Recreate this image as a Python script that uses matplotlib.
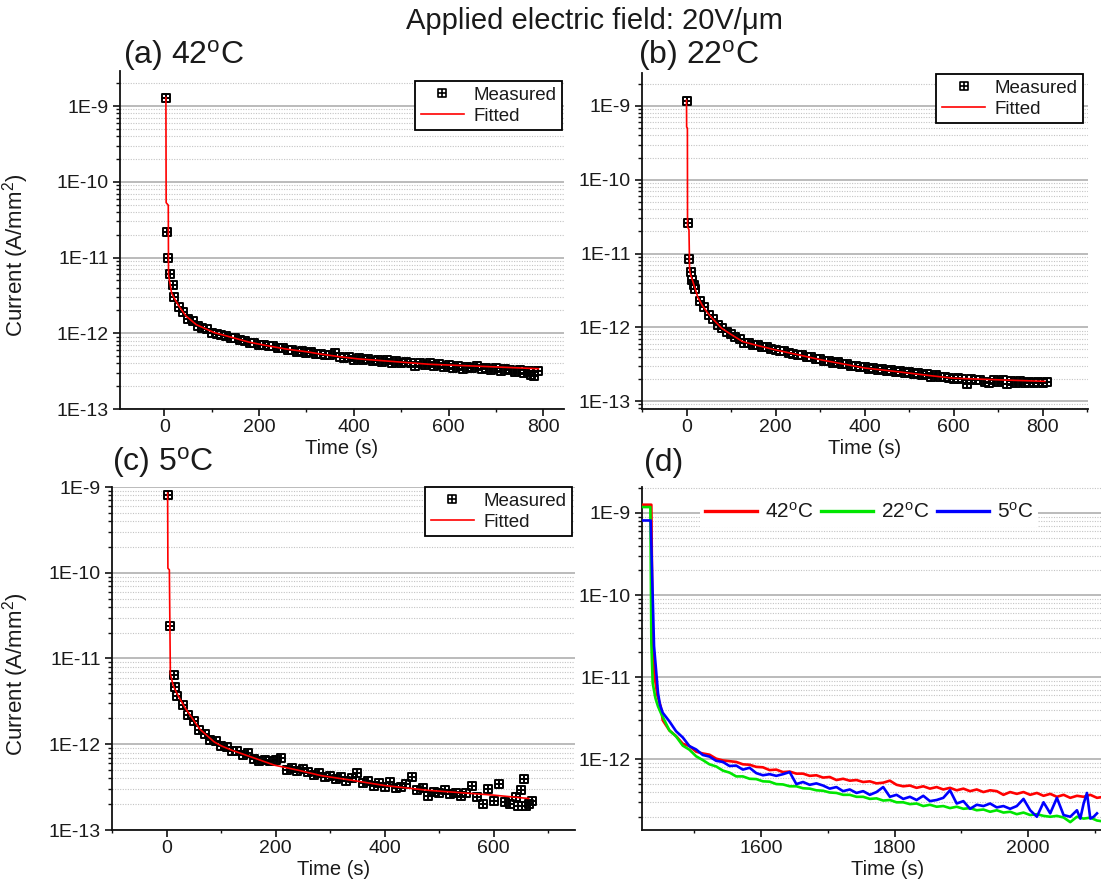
import numpy as np
import matplotlib
matplotlib.use('Agg')
import matplotlib.pyplot as plt
from matplotlib.path import Path
from matplotlib.ticker import FixedLocator, FuncFormatter, NullFormatter, MultipleLocator

plt.rcParams['font.family'] = ['Liberation Sans', 'DejaVu Sans']
plt.rcParams['mathtext.fontset'] = 'custom'
plt.rcParams['mathtext.rm'] = 'Liberation Sans'
plt.rcParams['mathtext.it'] = 'Liberation Sans:italic'
plt.rcParams['mathtext.bf'] = 'Liberation Sans:bold'

SCALE = 1e-12  # all current values below are in units of 1E-12 A/mm^2

# ---------------- (a) 42 C ----------------
t_42 = [3, 5, 8, 12, 17,
        20, 30, 40, 50, 60, 70, 80, 90, 100, 110,
        120, 130, 140, 150, 160, 170, 180, 190, 200, 210,
        220, 230, 240, 250, 260, 270, 280, 290, 300, 310,
        320, 330, 340, 350, 360, 370, 380, 390, 400, 410,
        420, 430, 440, 450, 460, 470, 480, 490, 500, 510,
        520, 530, 540, 550, 560, 570, 580, 590, 600, 610,
        620, 630, 640, 650, 660, 670, 680, 690, 700, 710,
        720, 730, 740, 750, 760, 770, 775, 780, 790]
i_42 = [1260, 22, 10, 6.0, 4.4,
        3.0, 2.25, 1.92, 1.55, 1.45, 1.24, 1.18, 1.14, 1.02, 0.97,
        0.95, 0.93, 0.87, 0.86, 0.81, 0.80, 0.74, 0.75, 0.70, 0.71,
        0.67, 0.67, 0.63, 0.64, 0.60, 0.61, 0.56, 0.58, 0.55, 0.56,
        0.53, 0.54, 0.51, 0.52, 0.55, 0.49, 0.47, 0.48, 0.45, 0.47,
        0.44, 0.46, 0.43, 0.45, 0.42, 0.44, 0.41, 0.43, 0.40, 0.42,
        0.41, 0.37, 0.40, 0.38, 0.40, 0.37, 0.39, 0.36, 0.38, 0.35,
        0.37, 0.34, 0.36, 0.35, 0.37, 0.34, 0.35, 0.33, 0.35, 0.32,
        0.34, 0.33, 0.31, 0.33, 0.30, 0.32, 0.28, 0.27, 0.32]
fit_t_42 = [3, 3.5, 8, 8.5, 12, 15, 20, 30, 45, 67, 105, 140, 180, 220, 256,
            300, 331, 370, 407, 480, 558, 650, 720, 790]
fit_i_42 = [1300, 53, 49, 5.8, 4.4, 3.4, 2.95, 2.3, 1.7, 1.3, 1.02, 0.89, 0.76, 0.68, 0.62,
            0.57, 0.53, 0.49, 0.46, 0.425, 0.39, 0.37, 0.355, 0.34]

# ---------------- (b) 22 C ----------------
t_22 = [1.5, 3, 5, 9, 13, 17,
        20, 30, 40, 50, 60, 70, 80, 90, 100, 110,
        120, 130, 140, 150, 160, 170, 180, 190, 200, 210,
        220, 230, 240, 250, 260, 270, 280, 290, 300, 310,
        320, 330, 340, 350, 360, 370, 380, 390, 400, 410,
        420, 430, 440, 450, 460, 470, 480, 490, 500, 510,
        520, 530, 540, 550, 560, 570, 580, 590, 600, 610,
        620, 630, 640, 650, 660, 670, 680, 690, 700, 710,
        720, 730, 740, 750, 760, 770, 780, 790, 800, 810]
i_22 = [1180, 26, 8.5, 5.6, 4.4, 3.7,
        3.3, 2.25, 1.9, 1.47, 1.31, 1.09, 0.98, 0.87, 0.82, 0.73,
        0.69, 0.62, 0.62, 0.58, 0.575, 0.54, 0.535, 0.50, 0.495, 0.47,
        0.47, 0.445, 0.44, 0.42, 0.415, 0.395, 0.39, 0.37, 0.37, 0.35,
        0.35, 0.33, 0.335, 0.315, 0.32, 0.30, 0.30, 0.285, 0.29, 0.27,
        0.28, 0.265, 0.27, 0.255, 0.265, 0.25, 0.255, 0.24, 0.245, 0.23,
        0.24, 0.225, 0.23, 0.215, 0.225, 0.21, 0.215, 0.205, 0.20, 0.205,
        0.196, 0.172, 0.20, 0.19, 0.195, 0.18, 0.175, 0.19, 0.18, 0.19,
        0.172, 0.185, 0.178, 0.186, 0.175, 0.182, 0.174, 0.18, 0.176, 0.18]
fit_t_22 = [0, 0.3, 2, 2.3, 5.5, 7, 9, 13, 17, 25, 35, 48, 60, 79, 100,
            126, 160, 202, 250, 304, 350, 401, 450, 498, 550, 600, 700, 805]
fit_i_22 = [1200, 520, 500, 23, 21, 6.0, 5.2, 4.4, 3.7, 2.6, 2.0, 1.55, 1.28, 0.97, 0.80,
            0.64, 0.565, 0.49, 0.425, 0.36, 0.32, 0.28, 0.26, 0.24, 0.22, 0.204, 0.194, 0.185]

# ---------------- (c) 5 C ----------------
t_5 = [2, 7, 13, 16,
       20, 30, 40, 50, 60, 70, 80, 90, 100, 110,
       120, 130, 140, 150, 160, 170, 180, 190, 200, 210,
       220, 230, 240, 250, 260, 270, 280, 290, 300, 310,
       320, 330, 340, 350, 360, 370, 380, 390, 400, 410,
       420, 430, 440, 450, 460, 470, 480, 490, 500, 510,
       520, 530, 540, 550, 560, 570, 580, 590, 600, 610,
       620, 630, 640,
       645, 650, 655, 660, 665, 670]
i_5 = [810, 24, 6.4, 4.6,
       3.7, 2.9, 2.2, 1.85, 1.45, 1.32, 1.13, 1.08, 0.96, 0.93,
       0.83, 0.84, 0.75, 0.79, 0.68, 0.64, 0.66, 0.63, 0.66, 0.70,
       0.50, 0.53, 0.49, 0.51, 0.48, 0.44, 0.46, 0.41, 0.43, 0.39,
       0.41, 0.37, 0.40, 0.46, 0.35, 0.37, 0.33, 0.35, 0.32, 0.36,
       0.31, 0.32, 0.34, 0.42, 0.29, 0.31, 0.25, 0.28, 0.27, 0.29,
       0.26, 0.27, 0.25, 0.27, 0.33, 0.24, 0.20, 0.30, 0.22, 0.34,
       0.21, 0.20, 0.24,
       0.19, 0.29, 0.39, 0.19, 0.20, 0.22]
fit_t_5 = [2, 2.5, 5.2, 7, 12, 16, 20, 30, 35, 45, 61, 75, 87, 100, 120,
           150, 198, 240, 284, 340, 400, 480, 540, 600, 664]
fit_i_5 = [850, 113, 108, 6.6, 4.9, 4.3, 3.8, 2.95, 2.6, 2.1, 1.5, 1.25, 1.07, 0.96, 0.85,
           0.73, 0.57, 0.5, 0.43, 0.38, 0.33, 0.29, 0.272, 0.255, 0.233]

# ---------------- (d) combined ----------------
D_OFFSET = 1433      # s, time offset of the combined record
D_LEAD = -11         # s, pre-sample holding the first value
D_LABELS = ['42$^{\\mathrm{o}}$C', '22$^{\\mathrm{o}}$C', '5$^{\\mathrm{o}}$C']
D_COLORS = ['#ff0000', '#00e600', '#0000ff']

# y-axis decades (exponents) used for tick labels 1E-13 ... 1E-9
Y_EXPONENTS = [-13, -12, -11, -10, -9]

TITLE = 'Applied electric field: 20V/\u03bcm'
PANEL_TITLES = ['(a) 42$^{\\mathrm{o}}$C', '(b) 22$^{\\mathrm{o}}$C', '(c) 5$^{\\mathrm{o}}$C', '(d)']
YLABEL = 'Current (A/mm$^{2}$)'
XLABEL = 'Time (s)'

TXT = '#1a1a1a'

boxplus = Path([(-1, -1), (1, -1), (1, 1), (-1, 1), (-1, -1), (0, -1), (0, 1), (-1, 0), (1, 0)],
               [Path.MOVETO, Path.LINETO, Path.LINETO, Path.LINETO, Path.CLOSEPOLY,
                Path.MOVETO, Path.LINETO, Path.MOVETO, Path.LINETO])

W, H = 1101, 888
fig = plt.figure(figsize=(W / 100, H / 100), dpi=100)


def px_axes(l, t, r, b):
    return fig.add_axes([l / W, 1 - b / H, (r - l) / W, (b - t) / H])


def style(ax, xlim, ylim, xmaj):
    ax.set_yscale('log')
    ax.set_xlim(*xlim)
    ax.set_ylim(*ylim)
    xmaj_ticks = [v for v in np.arange(0, 2400, xmaj) if xlim[0] <= v <= xlim[1]]
    xmin_ticks = [v for v in np.arange(xmaj / 2 - 200, 2400, xmaj / 2)
                  if xlim[0] <= v <= xlim[1] and v not in xmaj_ticks]
    ax.xaxis.set_major_locator(FixedLocator(xmaj_ticks))
    ax.xaxis.set_minor_locator(FixedLocator(xmin_ticks))
    decades = [10.0 ** e for e in Y_EXPONENTS if ylim[0] <= 10.0 ** e <= ylim[1] * 1.0001]
    minors = [m * 10.0 ** e for e in range(-14, -8) for m in range(2, 10)
              if ylim[0] <= m * 10.0 ** e <= ylim[1]]
    ax.yaxis.set_major_locator(FixedLocator(decades))
    ax.yaxis.set_minor_locator(FixedLocator(minors))
    ax.yaxis.set_major_formatter(FuncFormatter(lambda v, p: '1E%d' % round(np.log10(v))))
    ax.yaxis.set_minor_formatter(NullFormatter())
    for s in ['top', 'right']:
        ax.spines[s].set_visible(False)
    for s in ['left', 'bottom']:
        ax.spines[s].set_linewidth(1.3)
        ax.spines[s].set_color('#111111')
    ax.tick_params(axis='both', which='major', direction='out', length=5, width=1.2,
                   labelsize=14, labelcolor=TXT, color='#111111', pad=3)
    ax.tick_params(axis='x', which='major', pad=2)
    ax.tick_params(axis='y', which='minor', direction='out', length=3, width=1.0, color='#111111')
    ax.tick_params(axis='x', which='minor', direction='out', length=2.5, width=1.0, color='#111111')
    ax.yaxis.grid(True, which='major', color='#a8a8a8', lw=1.1)
    ax.yaxis.grid(True, which='minor', color='#c4c4c4', lw=0.8, ls=(0, (1, 1.3)))
    ax.set_axisbelow(True)


def fit_panel(ax, t, i, ft, fi, leg_anchor):
    ax.plot(t, np.array(i) * SCALE, ls='none', marker=boxplus, ms=5.5, mfc='none',
            mec='k', mew=1.4, label='Measured', zorder=3)
    ax.plot(ft, np.array(fi) * SCALE, color='#ff0000', lw=1.2, label='Fitted', zorder=4)
    leg = ax.legend(loc='upper right', bbox_to_anchor=leg_anchor, borderaxespad=0,
                    frameon=True, fancybox=False, edgecolor='k', framealpha=1,
                    fontsize=13.5, handlelength=2.3, borderpad=0.3, labelspacing=0.2,
                    handletextpad=0.5, numpoints=1, labelcolor=TXT)
    leg.get_frame().set_linewidth(1.3)
    for h in leg.legend_handles:
        if h.get_marker() is not None:
            h.set_markeredgewidth(1.2)
    leg.set_zorder(10)


# (a)
axa = px_axes(120, 71, 564, 409)
style(axa, (-94, 844), (1e-13, 2.9e-9), 200)
fit_panel(axa, t_42, i_42, fit_t_42, fit_i_42, (0.9955, 0.970))

# (b)
axb = px_axes(642, 73, 1088, 409)
style(axb, (-100, 902), (7.8e-14, 2.8e-9), 200)
fit_panel(axb, t_22, i_22, fit_t_22, fit_i_22, (0.989, 0.997))

# (c)
axc = px_axes(112, 487, 575, 830)
style(axc, (-100, 749), (1e-13, 1.0e-9), 200)
fit_panel(axc, t_5, i_5, fit_t_5, fit_i_5, (0.993, 1.0))

# (d)
axd = px_axes(642, 487, 1101, 830)
style(axd, (1422, 2109), (1.38e-13, 2.07e-9), 200)
for t, i, lab, col in zip([t_42, t_22, t_5], [i_42, i_22, i_5], D_LABELS, D_COLORS):
    tt = np.concatenate([[D_LEAD], t]) + D_OFFSET
    ii = np.concatenate([[i[0]], i]) * SCALE
    axd.plot(tt, ii, color=col, lw=1.9, label=lab, zorder=3)
legd = axd.legend(loc='center', bbox_to_anchor=(0.495, 0.927), ncol=3, frameon=True,
                  edgecolor='none', facecolor='white', framealpha=1, fancybox=False,
                  fontsize=15, handlelength=2.5, columnspacing=0.4, handletextpad=0.35,
                  borderpad=0.25, labelcolor=TXT)
for h in legd.get_lines():
    h.set_linewidth(2.4)
legd.set_zorder(10)

# labels
for ax, yl in [(axa, -0.200), (axc, -0.176)]:
    ax.set_ylabel(YLABEL, fontsize=16, color=TXT)
    ax.yaxis.set_label_coords(yl, 0.455)
for ax, (xc, yc) in [(axa, (0.5, -0.118)), (axb, (0.5, -0.119)),
                     (axc, (0.479, -0.114)), (axd, (0.536, -0.114))]:
    ax.set_xlabel(XLABEL, fontsize=14.5, color=TXT)
    ax.xaxis.label.set_va('center')
    ax.xaxis.set_label_coords(xc, yc)

# titles
fig.text(594 / W, 1 - 29 / H, TITLE, ha='center', va='baseline', fontsize=21, color=TXT)
for txt, (x, y) in zip(PANEL_TITLES, [(123, 64), (638, 64), (112, 471), (644, 471)]):
    fig.text(x / W, 1 - y / H, txt, ha='left', va='baseline', fontsize=23, color=TXT)

fig.savefig('out.png', dpi=100)
